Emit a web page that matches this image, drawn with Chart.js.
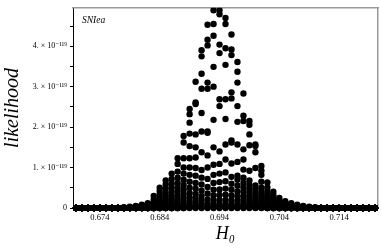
<html>
  <head>
    <title>SNIea likelihood</title>
    <script src="https://cdn.jsdelivr.net/npm/chart.js"></script>
    <style>
      body { margin: 0; background: #fff; }
    </style>
  </head>

  <body>
    <canvas id="myChart" width="382" height="252"></canvas>

  <script>

    // H0 grid
    const h0 = [0.670,0.671,0.672,0.673,0.674,0.675,0.676,0.677,0.678,0.679,
                0.680,0.681,0.682,0.683,0.684,0.685,0.686,0.687,0.688,0.689,
                0.690,0.691,0.692,0.693,0.694,0.695,0.696,0.697,0.698,0.699,
                0.700,0.701,0.702,0.703,0.704,0.705,0.706,0.707,0.708,0.709,
                0.710,0.711,0.712,0.713,0.714,0.715,0.716,0.717,0.718,0.719,0.720];

    // likelihood in units of 1e-119, one list per value of the other parameter
    const lik01 = [0,0,0,0,0,0,0,0,0.02,0.03, 0.05,0.08,0.12,0.3,0.5,0.68,0.85,1.23,1.78,2.45, 3.12,3.9,4.53,4.89,4.89,4.70,4.29,3.61,2.83,2.15, 1.57,1.04,0.63,0.4,0.25,0.17,0.12,0.08,0.05,0.03, 0.02,0,0,0,0,0,0,0,0,0,0];
    const lik02 = [0,0,0,0,0,0,0,0,0.01,0.02, 0.04,0.06,0.1,0.22,0.42,0.58,0.72,1.09,1.62,2.32, 2.61,3.75,4.16,4.55,4.79,4.55,3.92,3.37,2.28,2.06, 1.53,0.92,0.51,0.33,0.2,0.13,0.09,0.06,0.04,0.02, 0.01,0,0,0,0,0,0,0,0,0,0];
    const lik03 = [0,0,0,0,0,0,0,0,0,0.01, 0.03,0.05,0.08,0.16,0.34,0.48,0.6,0.9,1.23,2.11, 2.57,3.32,4.02,4.26,4.04,3.95,3.78,3.10,2.15,1.82, 1.38,0.82,0.42,0.28,0.16,0.1,0.06,0.04,0.03,0.01, 0,0,0,0,0,0,0,0,0,0,0];
    const lik04 = [0,0,0,0,0,0,0,0,0,0, 0.02,0.03,0.06,0.12,0.27,0.38,0.5,0.75,1.0,1.84, 1.82,2.95,3.10,3.49,3.83,3.54,2.86,2.52,1.45,1.55, 0.99,0.65,0.35,0.23,0.13,0.07,0.04,0.03,0.02,0, 0,0,0,0,0,0,0,0,0,0,0];
    const lik05 = [0,0,0,0,0,0,0,0,0,0, 0.01,0.02,0.04,0.09,0.21,0.3,0.4,0.62,0.85,1.53, 1.5,2.35,2.95,3.0,2.69,2.69,2.71,2.13,1.2,0.92, 0.56,0.5,0.29,0.18,0.1,0.05,0.03,0.02,0.01,0, 0,0,0,0,0,0,0,0,0,0,0];
    const lik06 = [0,0,0,0,0,0,0,0,0,0, 0,0.01,0.03,0.06,0.16,0.23,0.31,0.5,0.7,1.23, 1.25,1.89,1.89,2.18,2.52,2.20,1.67,1.57,0.95,0.68, 0.48,0.4,0.24,0.14,0.07,0.03,0.02,0.01,0,0, 0,0,0,0,0,0,0,0,0,0,0];
    const lik07 = [0,0,0,0,0,0,0,0,0,0, 0,0,0.02,0.04,0.12,0.17,0.23,0.4,0.57,1.0, 0.99,1.38,1.86,1.5,1.40,1.57,1.62,1.14,0.75,0.57, 0.4,0.33,0.19,0.11,0.05,0.02,0.01,0,0,0, 0,0,0,0,0,0,0,0,0,0,0];
    const lik08 = [0,0,0,0,0,0,0,0,0,0, 0,0,0.01,0.02,0.08,0.12,0.17,0.3,0.45,0.82, 0.8,0.94,1.3,1.07,1.09,1.2,1.1,0.8,0.62,0.47, 0.33,0.27,0.15,0.08,0.03,0.01,0,0,0,0, 0,0,0,0,0,0,0,0,0,0,0];
    const lik09 = [0,0,0,0,0,0,0,0,0,0, 0,0,0,0.01,0.05,0.08,0.11,0.22,0.34,0.65, 0.62,0.75,1.0,0.82,0.85,0.88,0.77,0.7,0.5,0.38, 0.27,0.22,0.11,0.05,0.02,0,0,0,0,0, 0,0,0,0,0,0,0,0,0,0,0];
    const lik10 = [0,0,0,0,0,0,0,0,0,0, 0,0,0,0,0.03,0.05,0.07,0.15,0.25,0.5, 0.48,0.58,0.72,0.62,0.64,0.66,0.6,0.55,0.4,0.3, 0.21,0.17,0.08,0.03,0.01,0,0,0,0,0, 0,0,0,0,0,0,0,0,0,0,0];
    const lik11 = [0,0,0,0,0,0,0,0,0,0, 0,0,0,0,0.01,0.02,0.04,0.09,0.17,0.37, 0.35,0.43,0.52,0.45,0.46,0.48,0.45,0.41,0.3,0.23, 0.16,0.12,0.05,0.02,0,0,0,0,0,0, 0,0,0,0,0,0,0,0,0,0,0];
    const lik12 = [0,0,0,0,0,0,0,0,0,0, 0,0,0,0,0,0.01,0.02,0.05,0.1,0.26, 0.24,0.3,0.36,0.31,0.32,0.33,0.31,0.29,0.21,0.16, 0.11,0.08,0.03,0.01,0,0,0,0,0,0, 0,0,0,0,0,0,0,0,0,0,0];
    const lik13 = [0,0,0,0,0,0,0,0,0,0, 0,0,0,0,0,0,0,0.02,0.05,0.16, 0.15,0.19,0.22,0.19,0.2,0.2,0.19,0.18,0.13,0.1, 0.07,0.05,0.01,0,0,0,0,0,0,0, 0,0,0,0,0,0,0,0,0,0,0];
    const lik14 = [0,0,0,0,0,0,0,0,0,0, 0,0,0,0,0,0,0,0,0.02,0.08, 0.08,0.1,0.12,0.1,0.1,0.1,0.1,0.09,0.07,0.05, 0.04,0.02,0,0,0,0,0,0,0,0, 0,0,0,0,0,0,0,0,0,0,0];
    const lik15 = [0,0,0,0,0,0,0,0,0,0, 0,0,0,0,0,0,0,0,0,0.03, 0.03,0.04,0.05,0.04,0.04,0.04,0.04,0.03,0.03,0.02, 0.01,0.01,0,0,0,0,0,0,0,0, 0,0,0,0,0,0,0,0,0,0,0];
    const lik16 = [0,0,0,0,0,0,0,0,0,0, 0,0,0,0,0,0,0,0,0,0, 0,0,0,0,0,0,0,0,0,0, 0,0,0,0,0,0,0,0,0,0, 0,0,0,0,0,0,0,0,0,0,0];

    const rows = [lik01,lik02,lik03,lik04,lik05,lik06,lik07,lik08,lik09,lik10,lik11,lik12,lik13,lik14,lik15,lik16];

    const xTicks = [0.674, 0.684, 0.694, 0.704, 0.714];
    const yTicks = [0, 1, 2, 3, 4];
    const yLabels = ["0", "1. \u00d7 10\u207b\u00b9\u00b9\u2079", "2. \u00d7 10\u207b\u00b9\u00b9\u2079", "3. \u00d7 10\u207b\u00b9\u00b9\u2079", "4. \u00d7 10\u207b\u00b9\u00b9\u2079"];

    const serif = "'Liberation Serif', 'DejaVu Serif', serif";

    const datasets = rows.map(r => ({
      data: r.map((v, i) => ({x: h0[i], y: v})),
      backgroundColor: '#000',
      borderWidth: 0,
      pointRadius: 3.2,
      pointHoverRadius: 3.2,
      clip: {left: false, top: 0, right: false, bottom: false},
      xAxisID: 'x',
      yAxisID: 'y'
    }));

    const panelLabel = {
      id: 'panelLabel',
      afterDraw(chart) {
        const ctx = chart.ctx;
        ctx.save();
        ctx.font = "italic 9.5px " + serif;
        ctx.fillStyle = '#000';
        ctx.textBaseline = 'alphabetic';
        ctx.fillText('SNIea', chart.chartArea.left + 9, chart.chartArea.top + 15);
        ctx.restore();
      }
    };

    const config = {
      type: 'scatter',
      data: { datasets: datasets },
      options: {
        responsive: false,
        animation: false,
        layout: { padding: { top: 4, right: 4, left: 0, bottom: 0 } },
        plugins: { legend: { display: false }, tooltip: { enabled: false } },
        scales: {
          x: {
            type: 'linear',
            position: 'bottom',
            min: 0.6695,
            max: 0.7205,
            afterBuildTicks: s => { s.ticks = xTicks.map(v => ({value: v})); },
            afterFit: s => { s.height = 44; },
            ticks: {
              color: '#000',
              font: { family: serif, size: 8.5 },
              padding: 2,
              maxRotation: 0,
              callback: v => v.toFixed(3)
            },
            grid: { display: true, drawOnChartArea: false, tickLength: 3, color: '#000' },
            border: { color: '#000', width: 1 },
            title: {
              display: true,
              text: 'H\u2080',
              color: '#000',
              font: { family: serif, size: 18, style: 'italic' },
              padding: { top: 0, bottom: 7 }
            }
          },
          y: {
            type: 'linear',
            position: 'left',
            min: 0,
            max: 4.95,
            afterBuildTicks: s => {
              const t = [];
              for (let k = 0; k < 10; k++) t.push({value: k / 2});
              s.ticks = t;
            },
            afterFit: s => { s.width = 73; },
            ticks: {
              color: '#000',
              font: { family: serif, size: 8 },
              padding: 3,
              callback: v => {
                const k = yTicks.indexOf(v);
                return k >= 0 ? yLabels[k] : '';
              }
            },
            grid: { display: true, drawOnChartArea: false, tickLength: 3, color: '#000' },
            border: { color: '#000', width: 1 },
            title: {
              display: true,
              text: 'likelihood',
              color: '#000',
              font: { family: serif, size: 20, style: 'italic' },
              padding: { top: 1, bottom: 0 }
            }
          },
          xTop: {
            type: 'linear',
            position: 'top',
            min: 0, max: 1,
            afterFit: s => { s.height = 0; },
            ticks: { display: false },
            grid: { display: false },
            border: { color: '#999', width: 1.5 }
          },
          yRight: {
            type: 'linear',
            position: 'right',
            min: 0, max: 1,
            afterFit: s => { s.width = 0; },
            ticks: { display: false },
            grid: { display: false },
            border: { color: '#999', width: 1.5 }
          }
        }
      },
      plugins: [panelLabel]
    };

    window.myChart = new Chart(document.getElementById('myChart'), config);

  </script>

  </body>
</html>
